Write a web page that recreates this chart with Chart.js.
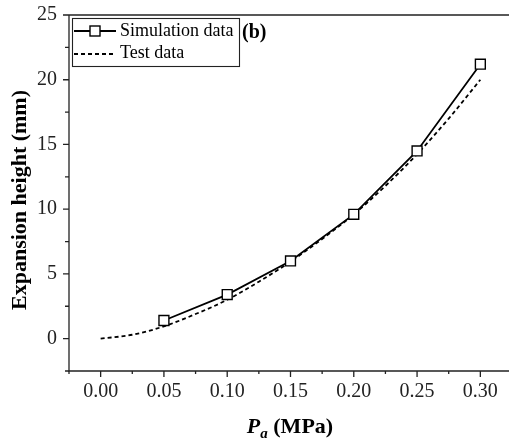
<!DOCTYPE html>
<html>
<head>
<meta charset="utf-8">
<script src="https://cdn.jsdelivr.net/npm/chart.js@4.4.0/dist/chart.umd.min.js"></script>
<style>
  html, body { margin: 0; padding: 0; background: #fff; overflow: hidden; }
  canvas { display: block; }
</style>
</head>
<body>
<canvas id="myChart" width="509" height="443"></canvas>
<script>
// ******************* data

let simX = [0.05, 0.10, 0.15, 0.20, 0.25, 0.30];
let simY = [1.4, 3.4, 6.0, 9.6, 14.5, 21.2];

let testX = [0, 0.025, 0.05, 0.075, 0.10, 0.125, 0.15, 0.175, 0.20, 0.225, 0.25, 0.275, 0.30];
let testY = [0, 0.3, 0.95, 1.9, 3.0, 4.4, 5.95, 7.7, 9.6, 11.8, 14.25, 17.0, 20.0];

let xTicks = [0, 0.05, 0.10, 0.15, 0.20, 0.25, 0.30];
let yTicks = [0, 5, 10, 15, 20, 25];

let seriesNames = ['Simulation data', 'Test data'];

// ******************* helpers

let serif = '"Liberation Serif", "Times New Roman", serif';
let axisColor = '#222';

function toPoints(xs, ys){
  let pts = [];
  for(let i = 0; i < xs.length; i++){
    pts.push({x: xs[i], y: ys[i]});
  }
  return pts;
}

function isMajor(v, list){
  for(let i = 0; i < list.length; i++){
    if(Math.abs(v - list[i]) < 1e-6) return true;
  }
  return false;
}

// draws axes lines, tick marks, legend box and axis titles
let framePlugin = {
  id: 'frame',
  afterDraw(chart){
    let c = chart.ctx;
    let a = chart.chartArea;
    let xs = chart.scales.x;
    let ys = chart.scales.y;
    let farRight = chart.width;

    c.save();
    c.strokeStyle = axisColor;
    c.lineWidth = 1.3;
    c.setLineDash([]);

    // axis lines (plot frame runs off the right edge, like the original)
    c.beginPath();
    c.moveTo(a.left, a.top);
    c.lineTo(a.left, a.bottom);
    c.lineTo(farRight, a.bottom);
    c.moveTo(a.left, a.top);
    c.lineTo(farRight, a.top);
    c.stroke();

    // x ticks
    c.beginPath();
    xs.ticks.forEach(function(t){
      let px = xs.getPixelForValue(t.value);
      let len = isMajor(t.value, xTicks) ? 6 : 3;
      c.moveTo(px, a.bottom);
      c.lineTo(px, a.bottom + len);
    });
    // y ticks
    ys.ticks.forEach(function(t){
      let py = ys.getPixelForValue(t.value);
      let len = isMajor(t.value, yTicks) ? 6 : 4;
      c.moveTo(a.left, py);
      c.lineTo(a.left - len, py);
    });
    c.stroke();

    // legend box
    c.lineWidth = 1.1;
    c.strokeStyle = '#222';
    c.strokeRect(72.5, 18.5, 167, 48);

    c.lineWidth = 1.8;
    c.strokeStyle = '#000';
    c.beginPath();
    c.moveTo(74, 31);
    c.lineTo(116, 31);
    c.stroke();
    c.fillStyle = '#fff';
    c.lineWidth = 1.4;
    c.fillRect(90, 26, 10, 10);
    c.strokeRect(90, 26, 10, 10);

    c.lineWidth = 1.8;
    c.setLineDash([4, 3]);
    c.beginPath();
    c.moveTo(74, 54);
    c.lineTo(116, 54);
    c.stroke();
    c.setLineDash([]);

    c.fillStyle = '#000';
    c.textBaseline = 'middle';
    c.textAlign = 'left';
    c.font = '18px ' + serif;
    c.fillText(seriesNames[0], 120, 31);
    c.fillText(seriesNames[1], 120, 53);

    c.font = 'bold 20px ' + serif;
    c.fillText('(b)', 242, 33);

    // y title
    c.save();
    c.translate(20, 200);
    c.rotate(-Math.PI / 2);
    c.textAlign = 'center';
    c.font = 'bold 22px ' + serif;
    c.fillText('Expansion height (mm)', 0, 0);
    c.restore();

    // x title: P (italic) with subscript a, then (MPa)
    c.textBaseline = 'alphabetic';
    let pFont = 'italic bold 22px ' + serif;
    let subFont = 'italic bold 15px ' + serif;
    let restFont = 'bold 22px ' + serif;
    c.font = pFont;
    let wP = c.measureText('P').width;
    c.font = subFont;
    let wA = c.measureText('a').width;
    c.font = restFont;
    let wR = c.measureText(' (MPa)').width;
    let total = wP + wA + wR;
    let x0 = 290 - total / 2;
    let base = 433;
    c.font = pFont;
    c.fillText('P', x0, base);
    c.font = subFont;
    c.fillText('a', x0 + wP, base + 5);
    c.font = restFont;
    c.fillText(' (MPa)', x0 + wP + wA, base);

    c.restore();
  }
};

// ******************* chart

let ctx = document.getElementById('myChart');

let myChartObj = {
  type: 'line',
  data: {
    datasets: [{
      label: seriesNames[0],
      data: toPoints(simX, simY),
      borderColor: '#000',
      borderWidth: 1.8,
      pointStyle: 'rect',
      pointRadius: 7,
      pointHoverRadius: 7,
      pointBorderWidth: 1.4,
      pointBackgroundColor: '#fff',
      pointBorderColor: '#000',
      tension: 0,
      order: 0
    },
    {
      label: seriesNames[1],
      data: toPoints(testX, testY),
      borderColor: '#000',
      borderWidth: 1.8,
      borderDash: [4, 3],
      pointRadius: 0,
      cubicInterpolationMode: 'monotone',
      order: 1
    }]
  },
  options: {
    responsive: false,
    animation: false,
    devicePixelRatio: 1,
    layout: { padding: { top: 15, right: 0, left: 0, bottom: 0 } },
    plugins: {
      legend: { display: false },
      tooltip: { enabled: false }
    },
    scales: {
      x: {
        type: 'linear',
        min: -0.025,
        max: 0.316,
        afterFit: function(s){
          s.height = 72;
        },
        grid: { display: false, drawTicks: false },
        border: { display: false },
        ticks: {
          stepSize: 0.025,
          includeBounds: false,
          autoSkip: false,
          maxRotation: 0,
          padding: 9,
          color: '#222',
          font: { family: serif, size: 20 },
          callback: function(v){
            return isMajor(v, xTicks) ? v.toFixed(2) : '';
          }
        }
      },
      y: {
        type: 'linear',
        min: -2.5,
        max: 25,
        afterFit: function(s){
          s.width = 69;
          s.paddingTop = 0;
          s.paddingBottom = 0;
        },
        grid: { display: false, drawTicks: false },
        border: { display: false },
        ticks: {
          stepSize: 2.5,
          autoSkip: false,
          padding: 12,
          color: '#222',
          font: { family: serif, size: 20 },
          callback: function(v){
            return isMajor(v, yTicks) ? String(Math.round(v)) : '';
          }
        }
      }
    }
  },
  plugins: [framePlugin]
};

new Chart(ctx, myChartObj);
</script>
</body>
</html>
